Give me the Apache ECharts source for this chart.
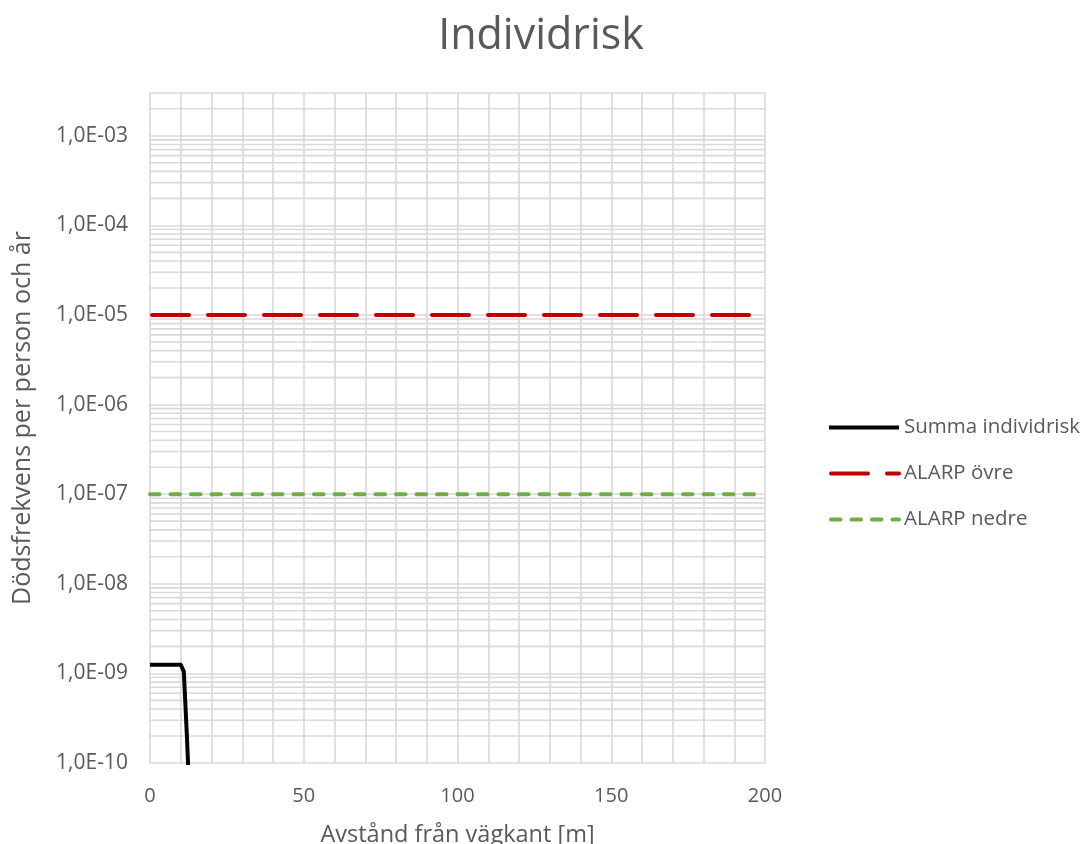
<!DOCTYPE html>
<html>
<head>
<meta charset="utf-8">
<script src="https://cdn.jsdelivr.net/npm/echarts@6/dist/echarts.min.js"></script>
<style>
  html, body { margin: 0; padding: 0; background: #fff; }
  #main { width: 1082px; height: 844px; }
</style>
</head>
<body>
<div id="main"></div>
<script>
var myChart = echarts.init(document.getElementById('main'));

// Summa individrisk (avstånd [m], frekvens)
var summaX = [0, 1, 2, 3, 4, 5, 6, 7, 8, 9, 10, 11, 12, 13];
var summaY = [1.25e-9, 1.25e-9, 1.25e-9, 1.25e-9, 1.25e-9, 1.25e-9, 1.25e-9, 1.25e-9, 1.25e-9, 1.25e-9, 1.25e-9, 1.05e-9, 2e-10, 3e-11];
// ALARP-gränser
var alarpX = [0, 200];
var alarpOvre = [1e-5, 1e-5];
var alarpNedre = [1e-7, 1e-7];
// mindre stödlinjer (2..9 per dekad)
var minorDigits = [2, 3, 4, 5, 6, 7, 8, 9];
var decades = [-10, -9, -8, -7, -6, -5, -4];
var extraMinor = [2e-3];

var minorValues = [];
for (var d = 0; d < decades.length; d++) {
  for (var m = 0; m < minorDigits.length; m++) {
    minorValues.push(minorDigits[m] * Math.pow(10, decades[d]));
  }
}
for (var k = 0; k < extraMinor.length; k++) {
  minorValues.push(extraMinor[k]);
}

function pairs(xs, ys) {
  var out = [];
  for (var i = 0; i < xs.length; i++) out.push([xs[i], ys[i]]);
  return out;
}

function expLabel(v) {
  var e = Math.round(Math.log10(v));
  if (Math.abs(Math.log10(v) - e) > 0.01) return '';
  var a = Math.abs(e);
  return '1,0E' + (e < 0 ? '-' : '+') + (a < 10 ? '0' + a : a);
}

var font = 'Open Sans';
var grey = '#595959';
var gridColor = '#d9d9d9';
var gridWidth = 1.6;

var series = [
  {
    name: 'Summa individrisk',
    type: 'line',
    data: pairs(summaX, summaY),
    symbol: 'none',
    z: 4,
    lineStyle: { color: '#000000', width: 4, join: 'round' },
    itemStyle: { color: '#000000' }
  },
  {
    name: 'ALARP övre',
    type: 'line',
    data: pairs(alarpX, alarpOvre),
    symbol: 'none',
    z: 3,
    lineStyle: { color: '#c00000', width: 4, type: [37, 19], cap: 'round', dashOffset: -2 },
    itemStyle: { color: '#c00000' }
  },
  {
    name: 'ALARP nedre',
    type: 'line',
    data: pairs(alarpX, alarpNedre),
    symbol: 'none',
    z: 3,
    lineStyle: { color: '#70ad47', width: 4, type: [9.5, 11], cap: 'round' },
    itemStyle: { color: '#70ad47' }
  }
];

// stödlinjer som egna serier (ingår inte i legenden)
for (var i = 0; i < minorValues.length; i++) {
  series.push({
    name: 'minor' + i,
    type: 'line',
    data: [[0, minorValues[i]], [200, minorValues[i]]],
    symbol: 'none',
    silent: true,
    z: 1,
    lineStyle: { color: gridColor, width: gridWidth },
    emphasis: { disabled: true }
  });
}

var option = {
  animation: false,
  textStyle: { fontFamily: font },
  title: {
    text: 'Individrisk',
    left: 'center',
    top: 10,
    textStyle: { fontFamily: font, fontSize: 43, fontWeight: 'normal', color: grey }
  },
  legend: {
    orient: 'vertical',
    left: 822,
    top: 412,
    itemWidth: 70,
    itemHeight: 14,
    itemGap: 25,
    itemStyle: { color: 'rgba(0,0,0,0)', borderWidth: 0 },
    lineStyle: { width: 4 },
    textStyle: { fontFamily: font, fontSize: 20.5, color: grey },
    data: ['Summa individrisk', 'ALARP övre', 'ALARP nedre']
  },
  grid: { left: 150, top: 93, width: 615, height: 670, containLabel: false, outerBoundsMode: 'none' },
  xAxis: {
    type: 'value',
    min: 0,
    max: 200,
    interval: 50,
    name: 'Avstånd från vägkant [m]',
    nameLocation: 'middle',
    nameGap: 60,
    nameTextStyle: { fontFamily: font, fontSize: 23.5, color: grey },
    axisLine: { show: false },
    axisTick: { show: false },
    axisLabel: { fontFamily: font, fontSize: 20, color: grey, margin: 23 },
    splitLine: { show: true, lineStyle: { color: gridColor, width: gridWidth } },
    minorTick: { show: false, splitNumber: 5 },
    minorSplitLine: { show: true, lineStyle: { color: gridColor, width: gridWidth } }
  },
  yAxis: {
    type: 'log',
    logBase: 10,
    min: 1e-10,
    max: 3e-3,
    interval: 1,
    name: 'Dödsfrekvens per person och år',
    nameLocation: 'middle',
    nameGap: 115,
    nameTextStyle: { fontFamily: font, fontSize: 25, color: grey, padding: [0, 0, 0, 20] },
    axisLine: { show: false },
    axisTick: { show: false },
    axisLabel: {
      fontFamily: font, fontSize: 21, color: grey, margin: 22,
      showMaxLabel: false,
      formatter: expLabel
    },
    splitLine: { show: true, lineStyle: { color: gridColor, width: gridWidth } }
  },
  series: series
};
myChart.setOption(option);
</script>
</body>
</html>
